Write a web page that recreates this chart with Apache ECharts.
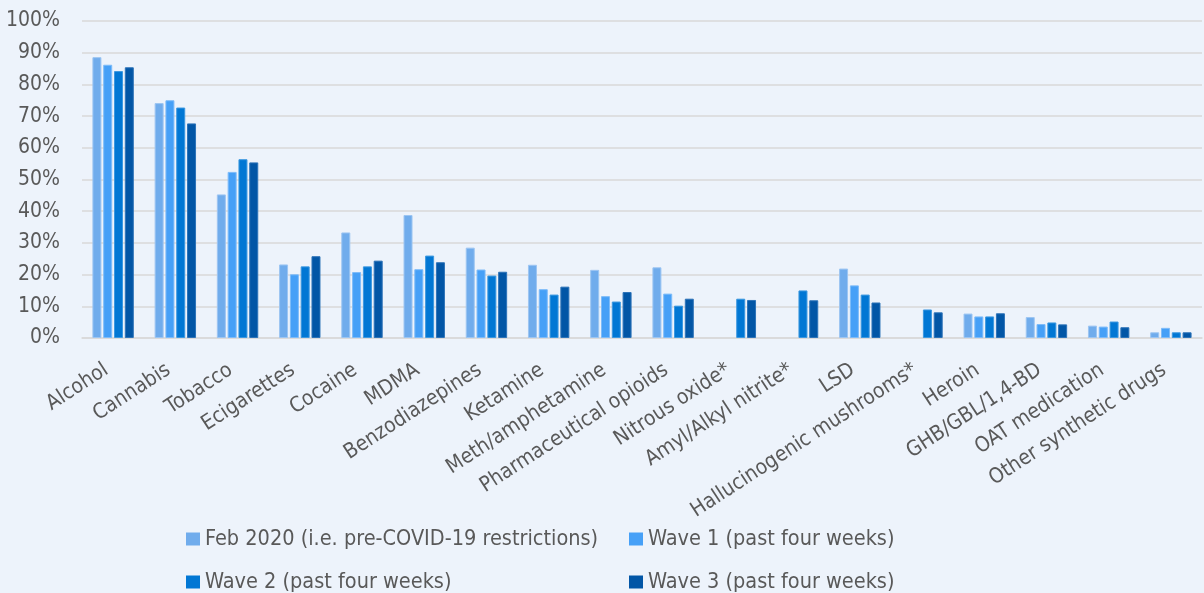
<!DOCTYPE html>
<html lang="en">
<head>
    <meta charset="UTF-8">
    <title>Drug use by wave</title>
    <script src="https://cdn.jsdelivr.net/npm/echarts@6/dist/echarts.min.js"></script>
    <style>
        html, body { margin: 0; padding: 0; background: #EDF3FB; }
        #main { width: 1204px; height: 593px; }
    </style>
</head>
<body>
    <div id="main"></div>
    <script>
        var categories = ['Alcohol', 'Cannabis', 'Tobacco', 'Ecigarettes', 'Cocaine', 'MDMA',
            'Benzodiazepines', 'Ketamine', 'Meth/amphetamine', 'Pharmaceutical opioids',
            'Nitrous oxide*', 'Amyl/Alkyl nitrite*', 'LSD', 'Hallucinogenic mushrooms*',
            'Heroin', 'GHB/GBL/1,4-BD', 'OAT medication', 'Other synthetic drugs'];

        var feb2020 = [88.6, 74.1, 45.3, 23.2, 33.3, 38.8, 28.5, 23.1, 21.5, 22.3, null, null, 21.9, null, 7.7, 6.6, 3.9, 1.8];
        var wave1 = [86.2, 75.0, 52.4, 20.1, 20.8, 21.7, 21.6, 15.4, 13.2, 14.0, null, null, 16.6, null, 6.8, 4.4, 3.6, 3.2];
        var wave2 = [84.2, 72.7, 56.4, 22.6, 22.6, 26.0, 19.7, 13.7, 11.5, 10.2, 12.4, 15.0, 13.7, 9.0, 6.8, 4.9, 5.2, 1.8];
        var wave3 = [85.4, 67.7, 55.4, 25.8, 24.4, 23.9, 20.9, 16.2, 14.5, 12.4, 12.0, 11.9, 11.2, 8.1, 7.8, 4.3, 3.4, 1.8];

        var seriesNames = ['Feb 2020 (i.e. pre-COVID-19 restrictions)', 'Wave 1 (past four weeks)',
            'Wave 2 (past four weeks)', 'Wave 3 (past four weeks)'];
        var colors = ['#70ACEC', '#46A0F7', '#0177D4', '#0256A6'];
        var borders = ['#9CC5F2', '#7DBBF9', '#3C98E0', '#2D73B8'];

        var font = "'Liberation Sans Narrow', 'DejaVu Sans Condensed', 'Noto Sans', sans-serif";
        var textColor = '#595959';

        var myChart = echarts.init(document.getElementById('main'));

        var allData = [feb2020, wave1, wave2, wave3];
        var series = [];
        for (var i = 0; i < 4; i++) {
            series.push({
                name: seriesNames[i],
                type: 'bar',
                barWidth: 9,
                barGap: '20%',
                itemStyle: {
                    color: colors[i],
                    borderColor: borders[i],
                    borderWidth: 1
                },
                data: allData[i]
            });
        }

        // legend in 2x2 grid, one legend per item so the columns line up
        var legendPos = [[186, 528], [629, 528], [186, 571], [629, 571]];
        var legends = [];
        for (var i = 0; i < 4; i++) {
            legends.push({
                data: [seriesNames[i]],
                left: legendPos[i][0],
                top: legendPos[i][1],
                padding: 0,
                icon: 'rect',
                itemWidth: 14,
                itemHeight: 13,
                itemGap: 5,
                itemStyle: { borderWidth: 0 },
                textStyle: {
                    color: textColor,
                    fontSize: 21.5,
                    fontFamily: font
                }
            });
        }

        var option = {
            backgroundColor: '#EDF3FB',
            animation: false,
            legend: legends,
            grid: {
                left: 82,
                right: 2,
                top: 21,
                bottom: 255
            },
            xAxis: {
                type: 'category',
                data: categories,
                axisTick: { show: false },
                axisLine: { lineStyle: { color: '#D9D9D9', width: 1.5 } },
                axisLabel: {
                    interval: 0,
                    rotate: 33,
                    margin: 26,
                    padding: [0, 8, 0, 0],
                    color: textColor,
                    fontSize: 21,
                    fontFamily: font
                }
            },
            yAxis: {
                type: 'value',
                min: 0,
                max: 100,
                interval: 10,
                axisLabel: {
                    formatter: '{value}%',
                    margin: 22,
                    color: textColor,
                    fontSize: 21,
                    fontFamily: font
                },
                splitLine: { lineStyle: { color: '#D9D9D9', width: 1.5 } },
                axisLine: { show: false },
                axisTick: { show: false }
            },
            series: series
        };

        myChart.setOption(option);
    </script>
</body>
</html>
